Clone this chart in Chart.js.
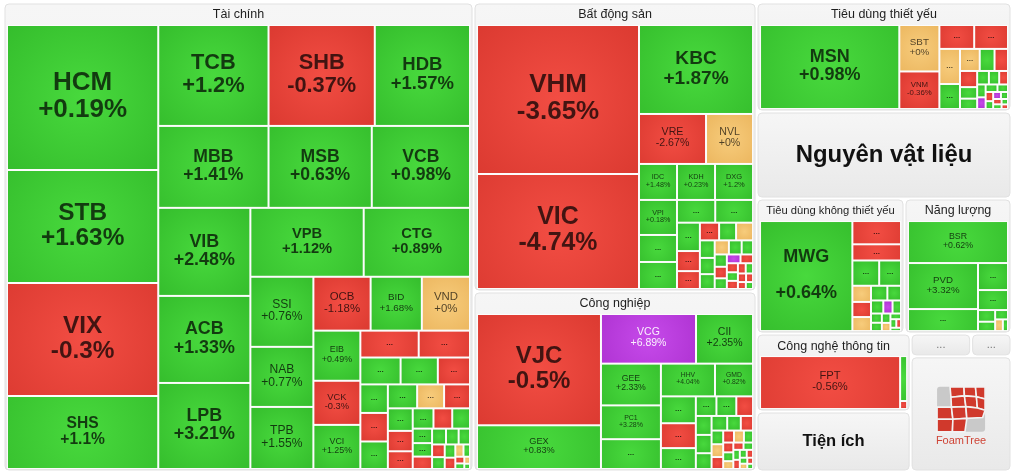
<!DOCTYPE html>
<html>
<head>
<meta charset="utf-8">
<script src="https://cdn.jsdelivr.net/npm/chart.js@4.4.0/dist/chart.umd.min.js"></script>
<style>
  html, body { margin: 0; padding: 0; background: #fff; overflow: hidden; }
  canvas { display: block; }
</style>
</head>
<body>
<canvas id="map" width="1018" height="476"></canvas>
<script>
// Top level sectors, weights.
const groupNames = ["Tài chính", "Bất động sản", "Công nghiệp", "Tiêu dùng thiết yếu", "Nguyên vật liệu",
  "Tiêu dùng không thiết yếu", "Năng lượng", "Công nghệ thông tin", "Tiện ích", "...", "...", "FoamTree"];
const groupWeights = [220430, 81787, 50940, 27795, 22185, 19980, 14445, 12012, 9240, 1380, 920, 11615];
const groupKinds = ["cells", "cells", "cells", "cells", "label", "cells", "cells", "cells", "label", "more", "more", "logo"];
const groupStrips = [1, 2, 1, 1, 2, 2, 2, 1];

// Tài chính
const tcTickers = ["HCM", "STB", "VIX", "SHS", "TCB", "SHB", "HDB", "MBB", "MSB", "VCB", "VIB", "ACB", "LPB",
  "VPB", "CTG", "SSI", "NAB", "TPB", "OCB", "BID", "VND", "EIB", "VCK", "VCI"];
const tcWeights = [21895, 17063, 17063, 11023, 11110, 10706, 9595, 9020, 8446, 8036, 8096, 8004, 7912,
  7797, 7314, 4410, 3780, 3906, 3078, 2754, 2592, 2350, 2068, 2068];
const tcChanges = [0.19, 1.63, -0.3, 1.1, 1.2, -0.37, 1.57, 1.41, 0.63, 0.98, 2.48, 1.33, 3.21,
  1.12, 0.89, 0.76, 0.77, 1.55, -1.18, 1.68, 0, 0.49, -0.3, 1.25];
const tcSmallWeights = [1566, 1377, 1080, 999, 864, 784, 784, 756, 700, 644, 620, 560, 506, 440, 420, 380, 360,
  280, 260, 240, 220, 200, 180, 160, 150, 140, 120, 100, 80, 60, 50, 40, 30];
const tcSmallChanges = [-0.5, -0.5, 0.5, 0.5, -0.5, 0.5, -0.5, 0.5, 0.5, 0, -0.5, 0.5, -0.5, -0.5, 0.5, -0.5, 0.5,
  0.5, 0.5, -0.5, 0.5, 0.5, 0.5, -0.5, 0.5, 0.5, -0.5, 0, 0.5, -0.5, 0.5, 0, 0.5];
const tcStrips = [4, 3, 3, 3, 2, 3, 3, 3, 2, 3];

// Bất động sản
const bdsTickers = ["VHM", "VIC", "KBC", "VRE", "NVL", "IDC", "KDH", "DXG", "VPI"];
const bdsWeights = [24138, 18630, 10146, 3350, 2350, 1368, 1368, 1368, 1330];
const bdsChanges = [-3.65, -4.74, 1.87, -2.67, 0, 1.48, 0.23, 1.2, 0.18];
const bdsSmallWeights = [1026, 1026, 870, 860, 650, 460, 410, 340, 300, 300, 260, 240, 220, 200, 180, 160, 150,
  140, 130, 120, 110, 100, 95, 90, 80, 75, 70, 60, 55, 50];
const bdsSmallChanges = [0.5, 0.5, 0.5, 0.5, 0.5, -0.5, -0.5, -0.5, 0.5, 0, 0.5, 0.5, 0.5, 0, 0.5, 0.5, 0.5,
  -0.5, 0.5, 6.9, -0.5, -0.5, 0.5, -0.5, -0.5, 0.5, -0.5, -0.5, -0.5, 0.5];
const bdsStrips = [2, 1, 2, 3, 3, 2];

// Công nghiệp
const cnTickers = ["VJC", "GEX", "VCG", "CII", "GEE", "PC1", "", "HHV", "GMD"];
const cnWeights = [13888, 5456, 4750, 2850, 2520, 2040, 1800, 1782, 1254];
const cnChanges = [-0.5, 0.83, 6.89, 2.35, 2.33, 3.28, 0.5, 4.04, 0.82];
const cnSmallWeights = [945, 875, 735, 406, 392, 330, 300, 290, 250, 230, 200, 180, 160, 150, 140, 130, 120,
  110, 100, 90, 80, 75, 70, 65, 60, 55, 50, 45, 40, 35, 30];
const cnSmallChanges = [0.5, -0.5, 0.5, 0.5, 0.5, -0.5, 0.5, 0.5, 0.5, 0.5, 0.5, -0.5, 0.5, 0, -0.5, -0.5, 0,
  0.5, -0.5, 0.5, 0, -0.5, 0.5, 0.5, -0.5, 0.5, -0.5, 0.5, 0, -0.5, 0.5];
const cnStrips = [2, 2, 3, 2, 3];

// Tiêu dùng thiết yếu
const tdtyTickers = ["MSN", "SBT", "VNM"];
const tdtyWeights = [11815, 1880, 1520];
const tdtyChanges = [0.98, 0, -0.36];
const tdtySmallWeights = [840, 816, 730, 520, 440, 330, 300, 280, 200, 180, 160, 140, 120, 110, 100, 90, 80,
  70, 60, 55, 50, 45, 40, 35, 30];
const tdtySmallChanges = [-0.5, -0.5, 0, 0.5, 0, 0.5, -0.5, -0.5, 0.5, 0.5, 0.5, 0.5, -0.5, 0.5, 6.9, 0.5, 0.5,
  -0.5, 0.5, 6.9, 0.5, -0.5, 0.5, 0.5, -0.5];
const tdtyStrips = [1, 2, 2];

// Tiêu dùng không thiết yếu
const tdktyTickers = ["MWG"];
const tdktyWeights = [10120];
const tdktyChanges = [0.64];
const tdktySmallWeights = [1127, 784, 675, 550, 300, 280, 260, 240, 200, 160, 120, 110, 100, 90, 80, 70, 60, 50, 40, 35];
const tdktySmallChanges = [-0.5, -0.5, 0.5, 0.5, 0, -0.5, 0, 0.5, 0.5, 0.5, 6.9, 0.5, 0.5, 0.5, 0.5, 0, 0.5, 0.5, -0.5, 0.5];
const tdktyStrips = [1, 1, 1, 2];

// Năng lượng
const nlTickers = ["BSR", "PVD"];
const nlWeights = [4200, 3220];
const nlChanges = [0.62, 3.32];
const nlSmallWeights = [1540, 810, 600, 200, 160, 120, 90, 60];
const nlSmallChanges = [0.5, 0.5, 0.5, 0.5, 0.5, 0.5, 0, 0.5];
const nlStrips = [1, 2];

// Công nghệ thông tin
const cnttTickers = ["FPT"];
const cnttWeights = [7420];
const cnttChanges = [-0.56];
const cnttSmallWeights = [315, 56];
const cnttSmallChanges = [0.5, -0.5];
const cnttStrips = [1];

const FONT = "'Liberation Sans', Arial, Helvetica, sans-serif";

function members(tickers, weights, changes, smallW, smallC, strips) {
  const list = tickers.map((t, i) => ({ name: t, weight: weights[i], change: changes[i] }));
  smallW.forEach((w, i) => list.push({ name: "", weight: w, change: smallC[i] }));
  return { list, strips };
}

const groupMembers = [
  members(tcTickers, tcWeights, tcChanges, tcSmallWeights, tcSmallChanges, tcStrips),
  members(bdsTickers, bdsWeights, bdsChanges, bdsSmallWeights, bdsSmallChanges, bdsStrips),
  members(cnTickers, cnWeights, cnChanges, cnSmallWeights, cnSmallChanges, cnStrips),
  members(tdtyTickers, tdtyWeights, tdtyChanges, tdtySmallWeights, tdtySmallChanges, tdtyStrips),
  null,
  members(tdktyTickers, tdktyWeights, tdktyChanges, tdktySmallWeights, tdktySmallChanges, tdktyStrips),
  members(nlTickers, nlWeights, nlChanges, nlSmallWeights, nlSmallChanges, nlStrips),
  members(cnttTickers, cnttWeights, cnttChanges, cnttSmallWeights, cnttSmallChanges, cnttStrips),
  null, null, null, null
];

// FoamTree logo cells, unit square (gray shows top-left and bottom-right)
const logoCells = [
  [[0.27, 0.0], [0.56, 0.0], [0.57, 0.2], [0.29, 0.23]],
  [[0.56, 0.0], [0.8, 0.0], [0.82, 0.22], [0.57, 0.2]],
  [[0.8, 0.0], [1.0, 0.0], [1.0, 0.27], [0.82, 0.22]],
  [[0.29, 0.23], [0.57, 0.2], [0.6, 0.44], [0.3, 0.45]],
  [[0.57, 0.2], [0.82, 0.22], [0.84, 0.47], [0.6, 0.44]],
  [[0.82, 0.22], [1.0, 0.27], [1.0, 0.52], [0.84, 0.47]],
  [[0.0, 0.45], [0.3, 0.45], [0.33, 0.72], [0.0, 0.72]],
  [[0.3, 0.45], [0.6, 0.44], [0.62, 0.7], [0.33, 0.72]],
  [[0.6, 0.44], [0.84, 0.47], [1.0, 0.52], [0.95, 0.68], [0.62, 0.7]],
  [[0.0, 0.72], [0.33, 0.72], [0.32, 1.0], [0.0, 1.0]],
  [[0.33, 0.72], [0.62, 0.7], [0.58, 1.0], [0.32, 1.0]]
];

function worst(row, side) {
  const s = row.reduce((a, b) => a + b, 0);
  let m = 0;
  row.forEach((a) => { m = Math.max(m, side * side * a / (s * s), s * s / (side * side * a)); });
  return m;
}

function greedy(areas, i, side) {
  let n = 1;
  while (i + n < areas.length && worst(areas.slice(i, i + n + 1), side) <= worst(areas.slice(i, i + n), side)) n++;
  return n;
}

// squarified layout; the first strips use the given counts
function squarify(weights, rect, strips) {
  const total = weights.reduce((a, b) => a + b, 0);
  const k = rect.w * rect.h / total;
  const areas = weights.map((v) => v * k);
  const out = [];
  const r = { ...rect };
  let i = 0, s = 0;
  while (i < areas.length) {
    let n = s < strips.length ? strips[s++] : greedy(areas, i, Math.min(r.w, r.h));
    n = Math.min(n, areas.length - i);
    const row = areas.slice(i, i + n);
    const sum = row.reduce((a, b) => a + b, 0);
    if (r.w >= r.h) {
      const t = sum / r.h;
      let yy = r.y;
      row.forEach((a) => { const hh = a / t; out.push({ x: r.x, y: yy, w: t, h: hh }); yy += hh; });
      r.x += t; r.w -= t;
    } else {
      const t = sum / r.w;
      let xx = r.x;
      row.forEach((a) => { const ww = a / t; out.push({ x: xx, y: r.y, w: ww, h: t }); xx += ww; });
      r.y += t; r.h -= t;
    }
    i += n;
  }
  return out;
}

function cellPalette(c) {
  if (c >= 6.5) return { stops: ["#c64aea", "#a92dcc"], text: "rgba(255,255,255,0.92)" };
  if (c > 0) return { stops: ["#48d93d", "#33bb2b"], text: "rgba(0,0,0,0.72)" };
  if (c < 0) return { stops: ["#f24d43", "#d9382f"], text: "rgba(0,0,0,0.72)" };
  return { stops: ["#f7cc7c", "#ebb55d"], text: "rgba(0,0,0,0.68)" };
}

function fmtChange(c) {
  return (c >= 0 ? "+" : "") + c + "%";
}

function roundRect(ctx, x, y, w, h, r) {
  ctx.beginPath();
  ctx.moveTo(x + r, y);
  ctx.arcTo(x + w, y, x + w, y + h, r);
  ctx.arcTo(x + w, y + h, x, y + h, r);
  ctx.arcTo(x, y + h, x, y, r);
  ctx.arcTo(x, y, x + w, y, r);
  ctx.closePath();
}

function drawCell(ctx, r, item) {
  const pal = cellPalette(item.change);
  const x = r.x + 1, y = r.y + 1, w = r.w - 2, h = r.h - 2;
  if (w <= 0 || h <= 0) return;
  const g = ctx.createRadialGradient(x + w / 2, y + h / 2, 0, x + w / 2, y + h / 2, Math.max(w, h) * 0.75);
  g.addColorStop(0, pal.stops[0]);
  g.addColorStop(1, pal.stops[1]);
  ctx.fillStyle = g;
  ctx.fillRect(x, y, w, h);

  ctx.fillStyle = pal.text;
  ctx.textAlign = "center";
  ctx.textBaseline = "middle";
  const cx = x + w / 2, cy = y + h / 2;
  let size = 0;
  const lines = [item.name, fmtChange(item.change)];
  if (item.name) {
    ctx.font = `bold 100px ${FONT}`;
    const unit = Math.max(...lines.map((t) => ctx.measureText(t).width)) / 100;
    size = Math.min(26, 0.22 * h, 0.68 * w / unit);
  }
  if (size >= 5) {
    // large tall cells spread the two lines apart
    const spread = h > 1.15 * w && w > 60 ? 1.9 : 1;
    ctx.font = `${size >= 14 ? "bold " : ""}${size.toFixed(1)}px ${FONT}`;
    ctx.fillText(lines[0], cx, cy - 1 - size * 0.52 * spread);
    ctx.fillText(lines[1], cx, cy - 1 + size * 0.52 * spread);
  } else if (w >= 17 && h >= 11) {
    ctx.font = `bold 8px ${FONT}`;
    ctx.fillText("...", cx, cy - 1);
  }
}

function groupBox(ctx, b) {
  const g = ctx.createLinearGradient(0, b.y, 0, b.y + b.h);
  g.addColorStop(0, "#f6f6f6");
  g.addColorStop(1, "#e9e9e9");
  roundRect(ctx, b.x, b.y, b.w, b.h, 4);
  ctx.fillStyle = g;
  ctx.fill();
  ctx.strokeStyle = "#e1e1e1";
  ctx.lineWidth = 1;
  ctx.stroke();
}

function drawLogo(ctx, b) {
  const gw = 48, gh = 45;
  const gx = b.x + b.w / 2 - gw / 2, gy = b.y + 29;
  ctx.fillStyle = "#c9c9c9";
  roundRect(ctx, gx, gy, gw, gh, 3);
  ctx.fill();
  ctx.fillStyle = "#d0392c";
  ctx.strokeStyle = "#f2f2f2";
  ctx.lineWidth = 1.6;
  ctx.lineJoin = "round";
  logoCells.forEach((poly) => {
    ctx.beginPath();
    poly.forEach(([u, v], i) => {
      const px = gx + u * gw, py = gy + v * gh;
      if (i === 0) ctx.moveTo(px, py); else ctx.lineTo(px, py);
    });
    ctx.closePath();
    ctx.fill();
    ctx.stroke();
  });
  ctx.font = `11px ${FONT}`;
  ctx.textAlign = "center";
  ctx.textBaseline = "middle";
  ctx.fillStyle = "#cf4436";
  ctx.fillText("FoamTree", b.x + b.w / 2, b.y + 83);
}

const treemapPlugin = {
  id: "treemap",
  afterDraw(chart) {
    const { ctx, scales: { x, y } } = chart;
    const toPx = (r) => ({
      x: x.getPixelForValue(r.x),
      y: y.getPixelForValue(r.y),
      w: x.getPixelForValue(r.x + r.w) - x.getPixelForValue(r.x),
      h: y.getPixelForValue(r.y + r.h) - y.getPixelForValue(r.y)
    });
    const area = { x: 3.5, y: 2.5, w: 1008, h: 469 };
    const boxes = squarify(groupWeights, area, groupStrips);
    ctx.save();
    boxes.forEach((r, gi) => {
      const box = { x: r.x + 1.5, y: r.y + 1.5, w: r.w - 3, h: r.h - 3 };
      const b = toPx(box);
      groupBox(ctx, b);
      const kind = groupKinds[gi];
      const name = groupNames[gi];
      ctx.textAlign = "center";
      ctx.textBaseline = "middle";
      if (kind === "cells") {
        ctx.font = `12.5px ${FONT}`;
        const tw = ctx.measureText(name).width;
        const fs = Math.min(12.5, 12.5 * (b.w - 16) / tw);
        ctx.font = `${fs.toFixed(1)}px ${FONT}`;
        ctx.fillStyle = "#1e1e1e";
        ctx.fillText(name, b.x + b.w / 2, b.y + 11);
        const content = { x: box.x + 2, y: box.y + 21, w: box.w - 4, h: box.h - 22 };
        const cp = toPx(content);
        ctx.fillStyle = "#fcfcfc";
        ctx.fillRect(cp.x, cp.y, cp.w, cp.h);
        const m = groupMembers[gi];
        const cells = squarify(m.list.map((d) => d.weight), content, m.strips);
        cells.forEach((c, i) => drawCell(ctx, toPx(c), m.list[i]));
      } else if (kind === "label") {
        ctx.font = `bold 100px ${FONT}`;
        const unit = ctx.measureText(name).width / 100;
        const fs = Math.min(0.29 * b.h, 0.7 * b.w / unit);
        ctx.font = `bold ${fs.toFixed(1)}px ${FONT}`;
        ctx.fillStyle = "#111";
        ctx.fillText(name, b.x + b.w / 2, b.y + b.h / 2);
      } else if (kind === "more") {
        ctx.font = `11px ${FONT}`;
        ctx.fillStyle = "#777";
        ctx.fillText(name, b.x + b.w / 2, b.y + b.h / 2);
      } else {
        drawLogo(ctx, b);
      }
    });
    ctx.restore();
  }
};

new Chart(document.getElementById("map"), {
  type: "scatter",
  data: { datasets: [{ data: [] }] },
  options: {
    responsive: false,
    animation: false,
    layout: { padding: 0 },
    scales: {
      x: { type: "linear", min: 0, max: 1018, display: false },
      y: { type: "linear", min: 0, max: 476, reverse: true, display: false }
    },
    plugins: { legend: { display: false }, tooltip: { enabled: false } }
  },
  plugins: [treemapPlugin]
});
</script>
</body>
</html>
